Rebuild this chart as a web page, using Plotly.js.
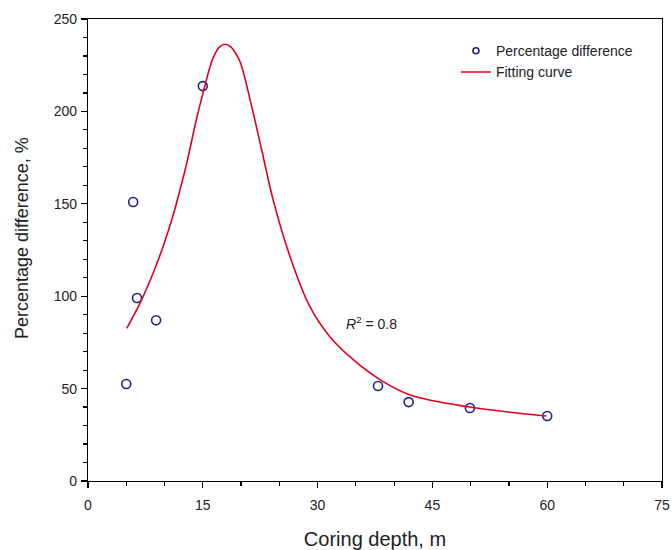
<!DOCTYPE html>
<html>
<head>
<meta charset="utf-8">
<script src="https://cdn.plot.ly/plotly-3.0.1.min.js"></script>
<style>html,body{margin:0;padding:0;background:#fff;}#chart{width:672px;height:550px;}</style>
</head>
<body>
<div id="chart"></div>
<script>
// Measured points
const depth = [5, 5.9, 6.4, 8.9, 15.0, 37.9, 41.9, 49.9, 60.0];
const pctDiff = [52.5, 151, 99, 87, 213.7, 51.4, 42.7, 39.5, 35.2];

// Fitting curve
const fitX = [5.06, 6.8, 8.5, 9.8, 11.2, 12.2, 12.9, 14.2, 15.3, 15.85, 16.4, 17.2, 17.9, 18.65, 19.43, 19.95, 21.4, 22.7, 24.2, 26.4, 29.0, 31.6, 34.7, 38.2, 42.1, 49.9, 59.9];
const fitY = [82.6, 96.2, 112.4, 126.8, 144.9, 160.5, 171.9, 196.3, 214.3, 222.8, 229.5, 234.9, 236.3, 234.9, 230.5, 226, 202.5, 179.1, 152, 121.4, 94.3, 78.1, 65.5, 54.7, 46.5, 40, 35.2];

const xTicks = [0, 15, 30, 45, 60, 75];
const yTicks = [0, 50, 100, 150, 200, 250];

const font = "Liberation Sans, Arial, sans-serif";
const navy = '#1f1f8f';
const red = '#e4001b';

const traces = [
  {
    x: depth, y: pctDiff, type: 'scatter', mode: 'markers',
    name: 'Percentage difference', showlegend: false,
    marker: {symbol: 'circle-open', size: 9, color: navy, line: {width: 1.6, color: navy}}
  },
  {
    x: fitX, y: fitY, type: 'scatter', mode: 'lines',
    name: 'Fitting curve', showlegend: false,
    line: {color: red, width: 1.6, shape: 'spline', smoothing: 1}
  },
  // legend entries (no data drawn)
  {
    x: [null], y: [null], type: 'scatter', mode: 'markers',
    name: 'Percentage difference',
    marker: {symbol: 'circle-open', size: 6, color: navy, line: {width: 1.6, color: navy}}
  },
  {
    x: [null], y: [null], type: 'scatter', mode: 'lines',
    name: 'Fitting curve',
    line: {color: red, width: 1.4}
  }
];

const axisCommon = {
  showline: true, linecolor: '#000', linewidth: 1.2, mirror: true,
  ticks: 'outside', ticklen: 6, tickwidth: 1.2, tickcolor: '#000',
  showgrid: false, zeroline: false,
  tickfont: {family: font, size: 14, color: '#222'}
};

const layout = {
  width: 672, height: 550,
  margin: {l: 88, r: 10, t: 19, b: 69},
  paper_bgcolor: '#fff', plot_bgcolor: '#fff',
  showlegend: true,
  legend: {x: 0.641, y: 0.965, xanchor: 'left', yanchor: 'top', bgcolor: 'rgba(0,0,0,0)',
           font: {family: font, size: 14, color: '#222'}, tracegroupgap: 0},
  xaxis: Object.assign({}, axisCommon, {
    range: [0, 75], tickvals: xTicks, ticktext: xTicks.map(String),
    ticklabelstandoff: 5,
    minor: {dtick: 5, ticks: 'outside', ticklen: 4, tickwidth: 1.2, tickcolor: '#000', showgrid: false},
    title: {text: 'Coring depth, m', font: {family: font, size: 20, color: '#222'}, standoff: 22}
  }),
  yaxis: Object.assign({}, axisCommon, {
    range: [0, 250], tickvals: yTicks, ticktext: yTicks.map(String),
    ticklabelstandoff: 1,
    minor: {dtick: 10, ticks: 'outside', ticklen: 4, tickwidth: 1.2, tickcolor: '#000', showgrid: false}
  }),
  annotations: [
    {
      x: 33.4, y: 85.5, xref: 'x', yref: 'y', xanchor: 'left', yanchor: 'middle',
      text: '<i>R</i><sup>2</sup> = 0.8', showarrow: false,
      font: {family: font, size: 14, color: '#222'}
    },
    {
      x: -0.115, y: 0.526, xref: 'paper', yref: 'paper', xanchor: 'center', yanchor: 'middle',
      text: 'Percentage difference, %', textangle: -90, showarrow: false,
      font: {family: font, size: 18, color: '#222'}
    }
  ]
};

Plotly.newPlot('chart', traces, layout, {displayModeBar: false, staticPlot: true});
</script>
</body>
</html>
